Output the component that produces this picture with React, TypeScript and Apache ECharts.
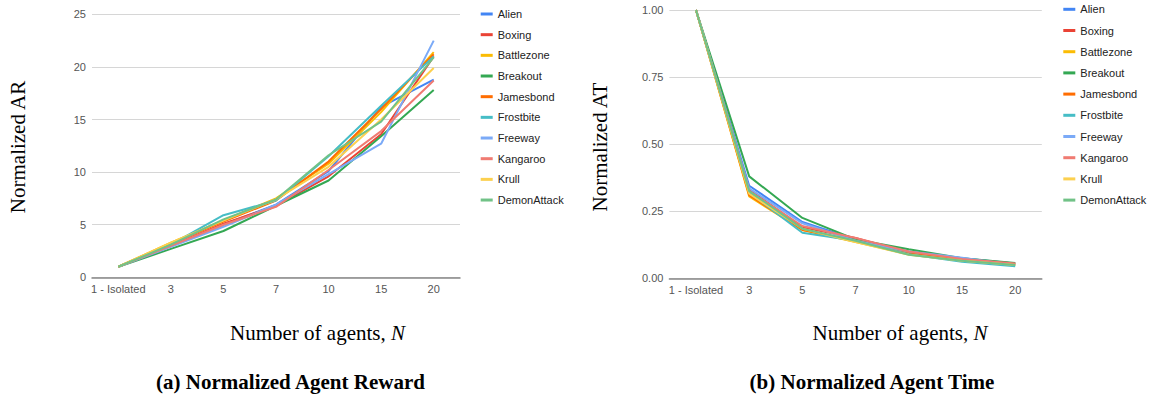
import React, { useEffect, useRef } from "react";
import * as echarts from "echarts";

const categories = ["1 - Isolated", "3", "5", "7", "10", "15", "20"];
const gameNames = ["Alien", "Boxing", "Battlezone", "Breakout", "Jamesbond", "Frostbite", "Freeway", "Kangaroo", "Krull", "DemonAttack"];
const gameColors = ["#4285F4", "#EA4335", "#FBBC04", "#34A853", "#FF6D01", "#46BDC6", "#7BAAF7", "#F07B72", "#FCD04F", "#71C287"];

// Normalized Agent Reward
const arAlien = [1, 3.0, 5.0, 6.9, 10.1, 16.2, 18.8];
const arBoxing = [1, 3.0, 5.1, 6.8, 9.6, 13.6, 21.0];
const arBattlezone = [1, 3.3, 5.4, 7.5, 10.8, 15.7, 21.4];
const arBreakout = [1, 2.7, 4.4, 6.8, 9.2, 13.4, 17.8];
const arJamesbond = [1, 3.2, 5.3, 7.3, 11.0, 16.0, 21.2];
const arFrostbite = [1, 3.1, 5.9, 7.3, 11.5, 16.3, 21.0];
const arFreeway = [1, 2.9, 4.8, 6.9, 9.8, 12.7, 22.5];
const arKangaroo = [1, 3.0, 5.0, 6.7, 10.2, 13.9, 18.7];
const arKrull = [1, 3.3, 5.4, 7.4, 10.5, 15.0, 19.9];
const arDemonAttack = [1, 3.1, 5.5, 7.4, 11.6, 14.8, 20.9];

// Normalized Agent Time
const atAlien = [1, 0.345, 0.21, 0.145, 0.1, 0.075, 0.055];
const atBoxing = [1, 0.33, 0.19, 0.15, 0.095, 0.07, 0.055];
const atBattlezone = [1, 0.305, 0.18, 0.135, 0.09, 0.065, 0.05];
const atBreakout = [1, 0.38, 0.225, 0.145, 0.108, 0.075, 0.057];
const atJamesbond = [1, 0.31, 0.18, 0.14, 0.095, 0.07, 0.052];
const atFrostbite = [1, 0.32, 0.17, 0.14, 0.09, 0.062, 0.045];
const atFreeway = [1, 0.335, 0.205, 0.14, 0.1, 0.077, 0.05];
const atKangaroo = [1, 0.325, 0.195, 0.15, 0.1, 0.072, 0.055];
const atKrull = [1, 0.315, 0.185, 0.135, 0.088, 0.065, 0.05];
const atDemonAttack = [1, 0.325, 0.185, 0.14, 0.088, 0.065, 0.05];

const arData = [arAlien, arBoxing, arBattlezone, arBreakout, arJamesbond, arFrostbite, arFreeway, arKangaroo, arKrull, arDemonAttack];
const atData = [atAlien, atBoxing, atBattlezone, atBreakout, atJamesbond, atFrostbite, atFreeway, atKangaroo, atKrull, atDemonAttack];

const sans = "'Liberation Sans', Arial, sans-serif";
const serif = "'Liberation Serif', 'Times New Roman', serif";

export default function App() {
  const ref = useRef<HTMLDivElement>(null);
  useEffect(() => {
    document.body.style.margin = "0";
    const chart = echarts.init(ref.current!, null, { renderer: "svg" });
    const axisLabel = { color: "#555", fontSize: 11, fontFamily: sans };
    const xAxisCommon = {
      type: "category" as const,
      data: categories,
      boundaryGap: true,
      axisTick: { show: false },
      axisLine: { lineStyle: { color: "#888", width: 1.5 } },
      axisLabel: { ...axisLabel, margin: 6, interval: 0 },
      splitLine: { show: false },
    };
    const legendCommon = {
      orient: "vertical" as const,
      icon: "rect",
      itemWidth: 12,
      itemHeight: 3,
      padding: 0,
      textStyle: { color: "#222", fontSize: 11, fontFamily: sans, lineHeight: 14 },
      data: gameNames,
    };
    const series: any[] = [];
    gameNames.forEach((name, i) => {
      series.push({
        type: "line", name, xAxisIndex: 0, yAxisIndex: 0, data: arData[i],
        showSymbol: false, symbol: "none", color: gameColors[i],
        lineStyle: { width: 2, color: gameColors[i] },
      });
    });
    gameNames.forEach((name, i) => {
      series.push({
        type: "line", name, xAxisIndex: 1, yAxisIndex: 1, data: atData[i],
        showSymbol: false, symbol: "none", color: gameColors[i],
        lineStyle: { width: 2, color: gameColors[i] },
      });
    });
    chart.setOption({
      animation: false,
      backgroundColor: "#fff",
      grid: [
        { left: 92, top: 14.3, width: 368, height: 263 },
        { left: 669.4, top: 10, width: 372.4, height: 268.3 },
      ],
      xAxis: [
        { ...xAxisCommon, gridIndex: 0 },
        { ...xAxisCommon, gridIndex: 1 },
      ],
      yAxis: [
        {
          type: "value", gridIndex: 0, min: 0, max: 25, interval: 5,
          axisLine: { show: false }, axisTick: { show: false },
          axisLabel: { ...axisLabel, margin: 6 },
          splitLine: { lineStyle: { color: "#d6d6d6", width: 1 } },
        },
        {
          type: "value", gridIndex: 1, min: 0, max: 1, interval: 0.25,
          axisLine: { show: false }, axisTick: { show: false },
          axisLabel: { ...axisLabel, margin: 6, formatter: (v: number) => v.toFixed(2) },
          splitLine: { lineStyle: { color: "#d6d6d6", width: 1 } },
        },
      ],
      legend: [
        { ...legendCommon, left: 480.7, top: 7, itemGap: 6.67 },
        { ...legendCommon, left: 1063.3, top: 2.3, itemGap: 7.2 },
      ],
      graphic: [
        {
          type: "text", x: 18, y: 147, rotation: Math.PI / 2,
          style: { text: "Normalized AR", font: `21px ${serif}`, fill: "#000", textAlign: "center", textVerticalAlign: "middle" },
        },
        {
          type: "text", x: 600, y: 147, rotation: Math.PI / 2,
          style: { text: "Normalized AT", font: `21px ${serif}`, fill: "#000", textAlign: "center", textVerticalAlign: "middle" },
        },
        {
          type: "text", x: 317.5, y: 333,
          style: {
            text: "Number of agents, {i|N}", fontSize: 21, fontFamily: serif, fill: "#000",
            textAlign: "center", textVerticalAlign: "middle",
            rich: { i: { fontSize: 21, fontFamily: serif, fontStyle: "italic", fill: "#000" } },
          },
        },
        {
          type: "text", x: 900, y: 333,
          style: {
            text: "Number of agents, {i|N}", fontSize: 21, fontFamily: serif, fill: "#000",
            textAlign: "center", textVerticalAlign: "middle",
            rich: { i: { fontSize: 21, fontFamily: serif, fontStyle: "italic", fill: "#000" } },
          },
        },
        {
          type: "text", x: 290.5, y: 382,
          style: { text: "(a) Normalized Agent Reward", font: `bold 21px ${serif}`, fill: "#000", textAlign: "center", textVerticalAlign: "middle" },
        },
        {
          type: "text", x: 872, y: 382,
          style: { text: "(b) Normalized Agent Time", font: `bold 21px ${serif}`, fill: "#000", textAlign: "center", textVerticalAlign: "middle" },
        },
      ],
      series,
    });
    return () => chart.dispose();
  }, []);
  return <div ref={ref} style={{ position: "fixed", left: 0, top: 0, width: 1153, height: 394 }} />;
}
